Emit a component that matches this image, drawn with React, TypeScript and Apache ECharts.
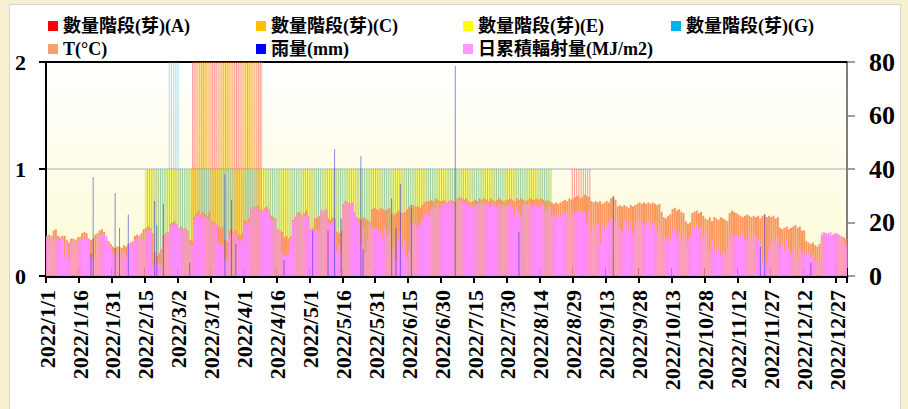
import React, { useEffect, useRef } from "react";
import * as echarts from "echarts";

// ---------- data ----------
const startDate = [2022, 1, 1];
const dayCount = 365;

// daily mean temperature (°C), right axis
const tempC = [
  15, 15.5, 15, 17, 17.5, 15, 14.5, 15, 15, 13.5, 12.5, 14, 14, 13.5, 14.5,
  14.5, 16, 16.5, 16, 14, 13.5, 14, 15.5, 16, 17, 17.5, 16.5, 13.5, 13, 12,
  11, 10.5, 11, 11, 10.5, 11.5, 11, 12, 12.5, 13, 15, 15.5, 15, 16, 17.5,
  18, 18.5, 18, 16, 9, 7.5, 8.5, 10, 15, 16, 16.5, 19.5, 20, 20.5, 19.5,
  18, 18.5, 17.5, 18, 17, 13.5, 13, 22, 23.5, 24.5, 23, 24, 23, 22.5, 24,
  20.5, 20, 19.5, 18.5, 18, 18.5, 13.5, 13, 17, 17.5, 16.5, 17, 15.5, 15, 16,
  21, 20.5, 21.5, 25, 26, 25.5, 26.5, 25, 24.5, 25.5, 26, 25, 22.5, 22, 21.5,
  17.5, 17, 16.5, 14.5, 15, 14, 15, 21, 22, 23.5, 24, 23, 23.5, 24.5, 22.5,
  17.5, 18, 21.5, 22, 22.5, 24.5, 24, 25, 21.5, 21, 22, 21.5, 16.5, 16, 17,
  27, 28, 27.5, 27, 27.5, 24, 22, 21.5, 21, 22, 21.5, 21, 20.5, 25, 25.5,
  25, 24.5, 25.5, 25, 24.5, 25, 25.5, 23.5, 23, 23.5, 24.5, 24, 23.5, 24, 25,
  26, 25.5, 26.5, 26, 26, 25.5, 26.5, 27.5, 28, 28, 28.5, 28, 29, 28.5, 28,
  28, 28.5, 27.5, 28, 28.5, 28, 27.5, 29, 29.5, 29, 28.5, 29, 28, 27.5, 28,
  28.5, 28, 29, 28.5, 29, 28.5, 28, 29, 28.5, 28, 28.5, 29, 28.5, 28, 28.5,
  28.5, 29, 28.5, 28, 29, 28.5, 29, 28.5, 28, 28.5, 29, 28.5, 28.5, 29, 28.5,
  29, 28.5, 28, 28.5, 28, 27.5, 27, 27.5, 27, 27.5, 28, 28.5, 28, 29, 28.5,
  29, 29.5, 30, 29, 29.5, 30.5, 30, 29.5, 28, 27.5, 28, 27.5, 28, 27, 27.5,
  28, 27.5, 29, 29.5, 28.5, 26, 26.5, 26, 26.5, 26, 25.5, 26.5, 26, 26.5, 27,
  27.5, 27, 27.5, 27, 27.5, 27, 27.5, 27, 26.5, 27, 24, 22, 21.5, 22.5, 23,
  25, 25.5, 24.5, 25, 24, 23.5, 20.5, 19.5, 20, 23.5, 24, 24.5, 23.5, 24, 22.5,
  21.5, 21, 22, 20.5, 22, 21.5, 21, 22, 21.5, 21, 20.5, 23.5, 24.5, 24, 23.5,
  23, 22.5, 22, 22.5, 23, 22.5, 22, 22.5, 22, 22.5, 21.5, 22.5, 23, 22, 22.5,
  22, 22.5, 21.5, 22, 18, 17.5, 18, 18.5, 17.5, 18, 18.5, 19, 18, 18.5, 17,
  17, 13, 12.5, 12, 12.5, 11.5, 11, 12, 15, 15.5, 16, 15.5, 15, 15.5, 16,
  15.5, 15, 14.5, 14.5, 14,
];

// daily accumulated radiation (MJ/m2), right axis
const radiation = [
  14.5, 14, 14.5, 13, 14, 14.5, 13.5, 14, 7, 12.5, 7, 12.5, 13, 12, 13.5,
  14, 13.5, 14, 14.5, 13.5, 7, 6.5, 8, 15, 15.5, 16, 15.5, 15, 11.5, 11,
  8.5, 8, 9, 7.5, 8, 9.5, 7, 11.5, 12, 11, 13.5, 14, 14.5, 14, 13.5,
  16.5, 17.5, 17, 4, 3.5, 4.5, 5, 4, 14.5, 15.5, 16, 19, 19.5, 19, 19.5,
  17.5, 18, 17, 17.5, 16.5, 12, 11.5, 21, 22.5, 23, 22, 22.5, 21.5, 22, 21,
  19.5, 19, 19.5, 12.5, 11.5, 12, 6, 6.5, 16, 15.5, 16.5, 16, 13.5, 13, 14,
  19, 19.5, 20, 25, 25.5, 26, 25, 24.5, 24, 25, 24, 25, 21.5, 21, 21,
  17, 16.5, 9, 8, 7.5, 8.5, 13, 20.5, 21.5, 23, 22.5, 22.5, 23, 22.5, 22,
  17, 17.5, 16.5, 17.5, 17, 24.5, 24, 24.5, 20, 19.5, 20.5, 19, 9, 12, 8,
  26.5, 27.5, 27, 26.5, 27, 23.5, 21.5, 20, 12, 18, 9, 14, 20, 18, 17.5,
  18, 16.5, 17, 14, 18.5, 15, 17, 9, 11, 6, 14, 16, 10, 13, 7,
  9, 19, 20, 19.5, 18.5, 20, 21, 23, 23.5, 22.5, 25, 26, 25.5, 26.5, 25,
  27, 27.5, 26.5, 27, 28, 27.5, 26, 28, 28.5, 28, 27.5, 28, 26.5, 25.5, 26,
  26.5, 27, 27.5, 27, 26.5, 27.5, 27, 26, 27, 26.5, 26, 27, 25.5, 26.5, 26,
  26, 27, 25.5, 22.5, 26, 24, 22, 26.5, 27, 26.5, 27, 26, 27, 26.5, 25.5,
  26.5, 27, 25, 24.5, 26, 22.5, 23, 21.5, 23, 22, 24, 23.5, 24, 23, 24.5,
  23.5, 24, 24.5, 24, 23.5, 24, 20, 24.5, 17, 19, 18.5, 20, 12, 19.5, 17,
  18.5, 20, 21.5, 22, 20, 21.5, 18, 16.5, 21, 19, 17, 20.5, 16, 19, 21,
  21, 20.5, 19, 20, 21, 18, 19.5, 20, 17, 19, 15, 14, 14.5, 15, 13,
  17, 18, 15.5, 16.5, 13.5, 15, 14.5, 13, 15, 18.5, 18, 19, 17.5, 18.5, 15,
  16.5, 12, 9, 14, 10, 8.5, 11, 7.5, 9.5, 8, 10.5, 15.5, 16, 15, 15.5,
  14.5, 15, 16, 14, 13.5, 15.5, 14, 16, 15, 13.5, 12, 5, 8, 4, 10,
  13, 14, 12.5, 15, 11, 12, 9, 13.5, 10, 8, 11, 9.5, 7, 10.5, 8.5,
  8, 9, 8.5, 7, 8, 6, 5.5, 6.5, 16, 16.5, 15.5, 16, 16.5, 15, 16,
  16, 15.5, 15, 13, 11.5,
];

// rain (mm): day index and amount
const rainDays = [
  20, 21, 31, 33, 37, 49, 50, 53, 65, 81, 84, 86, 108, 121, 128, 131, 134, 143,
  144, 157, 159, 161, 166, 186, 215, 258, 325, 327, 348,
];
const rainMm = [
  8.5, 37, 31, 18, 23, 28, 19, 27, 5, 38, 28.5, 12, 6, 17, 17, 47.5, 21.5, 45,
  10, 29, 18, 34.5, 26.5, 78.5, 16.5, 30, 11, 23, 5,
];

// bud stage counts: [first day, last day, count]
const stageA = [[67, 98, 2], [240, 248, 1]];
const stageC = [[45, 66, 1], [67, 98, 2], [99, 229, 1]];
const stageE = [[45, 229, 1]];
const stageG = [[45, 54, 1], [55, 59, 2], [60, 229, 1]];

const leftAxis = { min: 0, max: 2, interval: 1 };
const rightAxis = { min: 0, max: 80, interval: 20 };

const names = {
  A: "數量階段(芽)(A)",
  C: "數量階段(芽)(C)",
  E: "數量階段(芽)(E)",
  G: "數量階段(芽)(G)",
  T: "T(°C)",
  R: "雨量(mm)",
  S: "日累積輻射量(MJ/m2)",
};

// ---------- helpers ----------
function buildDates() {
  const out: string[] = [];
  for (let i = 0; i < dayCount; i++) {
    const d = new Date(startDate[0], startDate[1] - 1, startDate[2] + i);
    out.push(`${d.getFullYear()}/${d.getMonth() + 1}/${d.getDate()}`);
  }
  return out;
}
function expandRanges(r: number[][]) {
  const arr: (number | null)[] = new Array(dayCount).fill(null);
  r.forEach(([a, b, v]) => {
    for (let i = a; i <= b; i++) arr[i] = v;
  });
  return arr;
}
function expandRain() {
  const arr: (number | null)[] = new Array(dayCount).fill(null);
  rainDays.forEach((d, i) => (arr[d] = rainMm[i]));
  return arr;
}

const FONT = "'Liberation Serif','Times New Roman','Noto Sans CJK TC',serif";

export default function App() {
  const ref = useRef<HTMLDivElement>(null);
  useEffect(() => {
    if (!ref.current) return;
    const chart = echarts.init(ref.current, undefined, { renderer: "svg" });
    const dates = buildDates();
    const hiddenX = (extra: any = {}) => ({
      type: "category",
      data: dates,
      boundaryGap: true,
      show: false,
      ...extra,
    });
    const legendText = {
      fontSize: 18,
      fontWeight: "bold",
      color: "#000",
      fontFamily: FONT,
    };
    const mkLegend = (name: string, color: string, left: number, top: number) => ({
      left,
      top,
      padding: 0,
      itemWidth: 10,
      itemHeight: 10,
      itemGap: 0,
      selectedMode: false,
      icon: "rect",
      textStyle: legendText,
      data: [{ name, itemStyle: { color, opacity: 1 } }],
    });
    const stageSeries = (name: string, ranges: number[][], color: string, op: number) => ({
      name,
      type: "bar",
      xAxisIndex: 3,
      yAxisIndex: 0,
      barWidth: 1,
      barGap: "0%",
      itemStyle: { color, opacity: op },
      data: expandRanges(ranges),
    });

    const option: any = {
      animation: false,
      textStyle: { fontFamily: FONT },
      legend: [
        mkLegend(names.A, "#FF0000", 48, 17),
        mkLegend(names.C, "#FFC000", 256, 17),
        mkLegend(names.E, "#FFFF00", 463, 17),
        mkLegend(names.G, "#00B0F0", 671, 17),
        mkLegend(names.T, "#F9A070", 48, 40),
        mkLegend(names.R, "#0000FF", 256, 40),
        mkLegend(names.S, "#FF99FF", 463, 40),
      ],
      grid: {
        left: 46,
        right: 61,
        top: 62,
        bottom: 133,
        show: true,
        borderWidth: 0,
        backgroundColor: new echarts.graphic.LinearGradient(0, 0, 0, 1, [
          { offset: 0, color: "#FFFFFF" },
          { offset: 1, color: "#FDFBD5" },
        ]),
      },
      xAxis: [
        {
          type: "category",
          data: dates,
          boundaryGap: true,
          position: "bottom",
          axisLine: { show: true, lineStyle: { color: "#000", width: 3 } },
          axisTick: {
            show: true,
            interval: 14,
            length: 7,
            lineStyle: { color: "#000", width: 2 },
          },
          axisLabel: {
            interval: 14,
            rotate: 90,
            margin: 14,
            fontSize: 22,
            fontWeight: "bold",
            color: "#000",
            fontFamily: FONT,
          },
          splitLine: { show: false },
        },
        hiddenX(),
        hiddenX(),
        hiddenX(),
        {
          type: "category",
          data: dates,
          boundaryGap: true,
          position: "top",
          axisLine: { show: true, onZero: false, lineStyle: { color: "#000", width: 2 } },
          axisTick: { show: false },
          axisLabel: { show: false },
        },
        {
          type: "category",
          data: dates,
          boundaryGap: true,
          position: "bottom",
          axisLine: { show: false },
          axisTick: {
            show: true,
            inside: true,
            interval: 14,
            length: 8,
            lineStyle: { color: "#000", width: 2 },
          },
          axisLabel: { show: false },
        },
      ],
      yAxis: [
        {
          type: "value",
          position: "left",
          ...leftAxis,
          axisLine: { show: true, lineStyle: { color: "#000", width: 2 } },
          axisTick: { show: true, length: 7, lineStyle: { color: "#000", width: 2 } },
          axisLabel: {
            margin: 20,
            fontSize: 22,
            fontWeight: "bold",
            color: "#000",
            fontFamily: FONT,
          },
          splitLine: { show: true, lineStyle: { color: "#C8C8C8", width: 1.5 } },
        },
        {
          type: "value",
          position: "right",
          ...rightAxis,
          axisLine: { show: true, lineStyle: { color: "#7F7F7F", width: 2 } },
          axisTick: { show: true, length: 8, lineStyle: { color: "#7F7F7F", width: 1.5 } },
          axisLabel: {
            margin: 22,
            fontSize: 26,
            fontWeight: "bold",
            color: "#000",
            fontFamily: FONT,
          },
          splitLine: { show: false },
        },
      ],
      series: [
        stageSeries(names.A, stageA, "#FF0000", 0.4),
        stageSeries(names.C, stageC, "#FFC000", 0.55),
        stageSeries(names.E, stageE, "#FFFF00", 0.55),
        stageSeries(names.G, stageG, "#00B0F0", 0.4),
        {
          name: names.T,
          type: "bar",
          xAxisIndex: 0,
          yAxisIndex: 1,
          barCategoryGap: "8%",
          itemStyle: { color: "#F9975C" },
          data: tempC,
        },
        {
          name: names.S,
          type: "bar",
          xAxisIndex: 1,
          yAxisIndex: 1,
          barCategoryGap: "22%",
          itemStyle: { color: "#FF8CFF" },
          data: radiation,
        },
        {
          name: names.R,
          type: "bar",
          xAxisIndex: 2,
          yAxisIndex: 1,
          barWidth: 1,
          itemStyle: { color: "rgba(40,40,220,0.55)" },
          data: expandRain(),
        },
      ],
    };
    chart.setOption(option);
    return () => chart.dispose();
  }, []);

  return (
    <div
      style={{
        position: "fixed",
        left: 0,
        top: 0,
        width: 908,
        height: 409,
        background: "#F6F0D0",
        overflow: "hidden",
      }}
    >
      <div
        style={{
          position: "absolute",
          left: 9,
          top: 4,
          width: 892,
          height: 420,
          background: "#FFFFFF",
          border: "1px solid #D4D4D4",
          boxSizing: "border-box",
        }}
      />
      <div
        ref={ref}
        style={{ position: "absolute", left: 0, top: 0, width: 908, height: 409 }}
      />
    </div>
  );
}
